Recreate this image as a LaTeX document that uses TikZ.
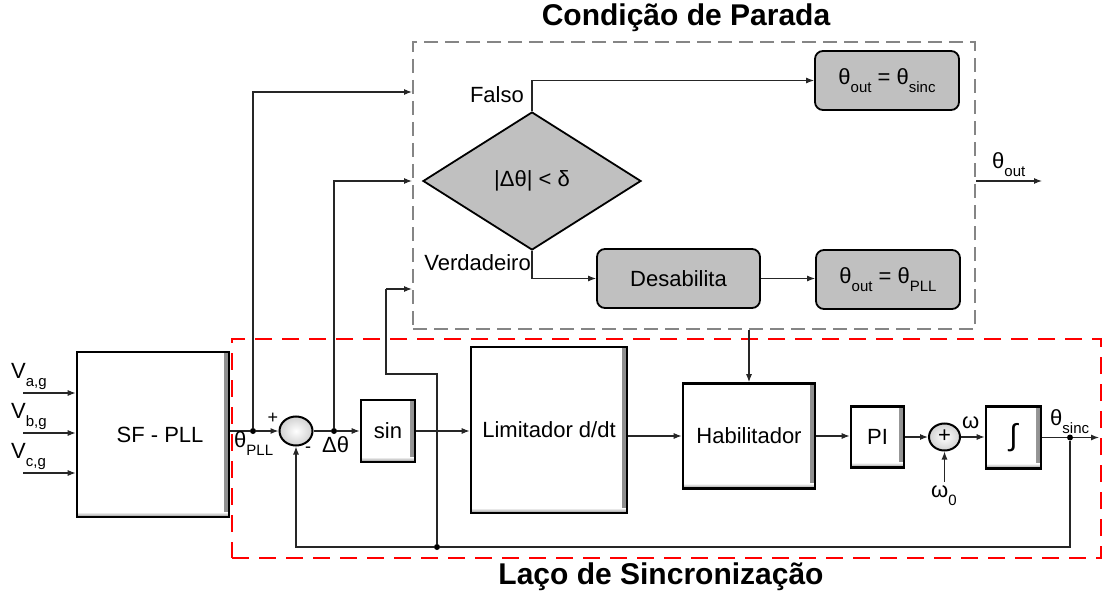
\documentclass[tikz,border=0pt]{standalone}
\usepackage{fontspec}
\setmainfont{Liberation Sans}
\usetikzlibrary{arrows.meta,shapes.geometric,calc}
\definecolor{silver}{HTML}{C0C0C0}
\definecolor{dgray}{HTML}{858585}
\newcommand{\fsz}{\fontsize{22}{26}\selectfont}
\newcommand{\lsub}[1]{\raisebox{-8pt}{\fontsize{15}{15}\selectfont #1}}
\begin{document}
\begin{tikzpicture}[x=1pt,y=-1pt,
  con/.style={line width=1.1pt, draw=black!85},
  arr/.style={con, -{Latex[length=8pt,width=6pt]}},
  dot/.style={circle, fill=black, inner sep=0pt, minimum size=6pt},
  lbl/.style={font=\fsz, inner sep=0pt},
  ttl/.style={font=\fontsize{30}{34}\selectfont\bfseries, inner sep=0pt},
  blk/.style={draw, line width=2.6pt, fill=white, inner sep=0pt, font=\fsz,
    path picture={
      \shade[left color=white, right color=black!45]
        ([xshift=-5pt]path picture bounding box.north east) rectangle (path picture bounding box.south east);
      \shade[top color=white, bottom color=black!45]
        ([yshift=5pt]path picture bounding box.south west) rectangle (path picture bounding box.south east);
    }},
  sumc/.style={ellipse, draw, line width=2pt, inner sep=0pt,
    shading=radial, inner color=white, outer color=black!18, font=\fsz},
  cnd/.style={draw, line width=1.8pt, fill=silver, rounded corners=8pt, inner sep=0pt,
    minimum height=59pt, font=\fsz},
  dia/.style={diamond, draw, line width=1.8pt, fill=silver, inner sep=0pt,
    minimum width=218pt, minimum height=138pt, font=\fsz},
  rbx/.style={draw=red, line width=2.2pt, dash pattern=on 17pt off 10pt},
  gbx/.style={draw=dgray, line width=2pt, dash pattern=on 14pt off 7pt}
]
\useasboundingbox (0,0) rectangle (1102,596);

% frames
\node[rbx, minimum width=869pt, minimum height=219pt] (rbox) at (666.5,448.5) {};
\node[gbx, minimum width=562pt, minimum height=287pt] (cbox) at (694,185.5) {};
\node[ttl] (t1) at (686,18) {Condição de Parada};
\node[ttl] (t2) at (661,577) {Laço de Sincronização};

% lower loop blocks
\node[blk, minimum width=152pt, minimum height=165pt] (sfpll) at (153,434.5) {\hspace*{14pt}SF - PLL};
\node[sumc, minimum width=33pt, minimum height=29pt] (sum1) at (296,431) {};
\node[blk, minimum width=54pt, minimum height=62pt] (sin) at (388,431) {sin};
\node[blk, minimum width=156pt, minimum height=166pt] (lim) at (549,430) {Limitador d/dt};
\node[blk, minimum width=132pt, minimum height=105pt] (hab) at (749,436) {Habilitador};
\node[blk, minimum width=53pt, minimum height=61pt] (pi) at (877.5,437) {PI};
\node[sumc, minimum width=31pt, minimum height=27pt] (sum2) at (944.5,437) {\raisebox{1pt}{+}};
\node[blk, minimum width=55pt, minimum height=62pt, font=\fontsize{30}{32}\selectfont] (integ) at (1013.5,437.5) {∫};

% inputs
\coordinate (ina) at (23,393);
\coordinate (inb) at (23,433);
\coordinate (inc) at (23,473);
\draw[arr] (ina) -- (ina -| sfpll.west);
\draw[arr] (inb) -- (inb -| sfpll.west);
\draw[arr] (inc) -- (inc -| sfpll.west);
\node[lbl, anchor=base west] (la) at (11,378) {V\lsub{a,g}};
\node[lbl, anchor=base west] (lb) at (11,418) {V\lsub{b,g}};
\node[lbl, anchor=base west] (lc) at (11,458) {V\lsub{c,g}};

% forward path
\node[dot] (dpll) at (253,431) {};
\node[dot] (dth) at (334,431) {};
\draw[con] (sfpll.east |- dpll) -- (dpll);
\draw[arr] (dpll) -- (sum1.west);
\draw[con] (sum1.east) -- (dth);
\draw[arr] (dth) -- (sin.west);
\draw[arr] (sin.east) -- (sin.east -| lim.west);
\draw[arr] (lim.east |- hab.west) -- (hab.west);
\draw[arr] (hab.east) -- (hab.east -| pi.west);
\draw[arr] (pi.east) -- (pi.east -| sum2.west);
\draw[arr] (sum2.east) -- (sum2.east -| integ.west);
\node[dot] (dsinc) at (1070,437.5) {};
\coordinate (outend) at (1099,437.5);
\draw[con] (integ.east) -- (dsinc);
\draw[arr] (dsinc) -- (outend);
\coordinate (w0) at (944.5,482);
\draw[arr] (w0) -- (sum2.south);

% feedback
\coordinate (fbc) at (1070,547);
\node[dot] (fbj) at (437,547) {};
\draw[con] (dsinc) -- (fbc) -- (fbj);
\draw[arr] (fbj) -| (sum1.south);
\coordinate (k1) at (437,374);
\coordinate (k2) at (386,374);
\coordinate (k3) at (386,289);
\draw[con] (fbj) -- (k1) -- (k2) -- (k3);
\draw[arr] (k3) -- (k3 -| cbox.west);

% inputs to condition box
\coordinate (u1) at (253,92);
\coordinate (u2) at (334,181);
\draw[arr] (dpll) -- (u1) -- (u1 -| cbox.west);
\draw[arr] (dth) -- (u2) -- (u2 -| cbox.west);
\draw[arr] (hab.north |- cbox.south) -- (hab.north);

% labels lower
\node[lbl, anchor=base west] (lpll) at (234,447) {θ\lsub{PLL}};
\node[lbl, anchor=base west] (ldth) at (322,452) {Δθ};
\node[lbl, font=\fontsize{18}{20}\selectfont] (lplus) at (273,418) {+};
\node[lbl, font=\fontsize{18}{20}\selectfont] (lminus) at (308,450) {-};
\node[lbl, anchor=base west] (lw) at (962,428) {ω};
\node[lbl, anchor=base west] (lw0) at (931,497) {ω\lsub{0}};
\node[lbl, anchor=base west] (lsinc) at (1050,425) {θ\lsub{sinc}};

% condition box content
\node[dia] (dia) at (532,181) {|Δθ| < δ};
\node[cnd, minimum width=144pt] (box1) at (887,80.5) {θ\lsub{out} = θ\lsub{sinc}};
\node[cnd, minimum width=163pt] (desab) at (678.5,278.5) {Desabilita};
\node[cnd, minimum width=144pt] (box2) at (888,279.5) {θ\lsub{out} = θ\lsub{PLL}};
\draw[arr] (dia.north) |- (box1.west);
\draw[arr] (dia.south) |- (desab.west);
\draw[arr] (desab.east) -- (desab.east -| box2.west);
\node[lbl, anchor=base east] (lfalso) at (524,103) {Falso};
\node[lbl, anchor=base east] (lverd) at (531,270) {Verdadeiro};
\coordinate (o2) at (1042,181);
\draw[arr] (cbox.east |- dia.center) -- (o2);
\node[lbl, anchor=base west] (lout) at (992,168) {θ\lsub{out}};
\end{tikzpicture}
\end{document}
